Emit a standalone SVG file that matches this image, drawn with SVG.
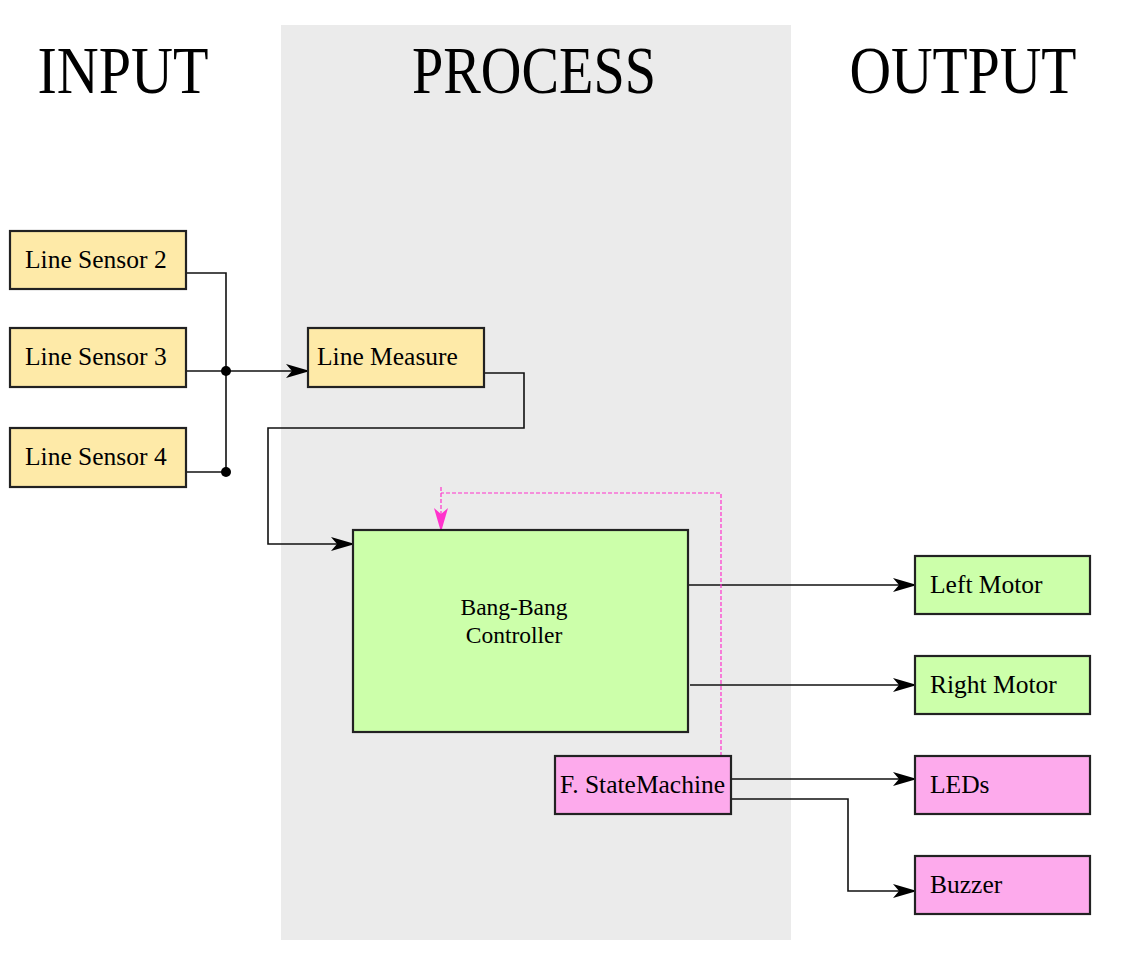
<svg xmlns="http://www.w3.org/2000/svg" width="1144" height="969" viewBox="0 0 1144 969">
<defs>
<style>
text{font-family:"Liberation Serif","Times New Roman",serif;fill:#000}
.lbl{font-size:25.5px}
.ttl{font-size:67px}
.box{stroke:#222;stroke-width:2.2}
.y{fill:#feeaa8}
.g{fill:#ccffaa}
.p{fill:#fdaaec}
.w{fill:none;stroke:#111;stroke-width:1.6}
.m{fill:none;stroke:#ff33cc;stroke-width:1.2;stroke-dasharray:4 2}
</style>
<marker id="arr" viewBox="0 0 24 14" refX="22" refY="7" markerWidth="24" markerHeight="14" markerUnits="userSpaceOnUse" orient="auto">
<path d="M0,0 L24,7 L0,14 L6,7 Z" fill="#000"/>
</marker>
<marker id="arrM" viewBox="0 0 24 14" refX="22" refY="7" markerWidth="24" markerHeight="14" markerUnits="userSpaceOnUse" orient="auto">
<path d="M0,0 L24,7 L0,14 L6,7 Z" fill="#ff33cc"/>
</marker>
</defs>
<rect width="1144" height="969" fill="#fff"/>
<rect x="281" y="25" width="510" height="915" fill="#ebebeb"/>
<text class="ttl" x="123" y="93" text-anchor="middle" textLength="171" lengthAdjust="spacingAndGlyphs">INPUT</text>
<text class="ttl" x="534" y="93" text-anchor="middle" textLength="244" lengthAdjust="spacingAndGlyphs">PROCESS</text>
<text class="ttl" x="963" y="93" text-anchor="middle" textLength="227" lengthAdjust="spacingAndGlyphs">OUTPUT</text>
<g id="connectors">
<polyline class="w" points="186,273 226,273 226,472"/>
<line class="w" x1="186" y1="371" x2="308" y2="371" marker-end="url(#arr)"/>
<line class="w" x1="186" y1="472" x2="226" y2="472"/>
<circle cx="226" cy="371" r="5" fill="#000"/>
<circle cx="226" cy="472" r="5" fill="#000"/>
<polyline class="w" points="484,373 524,373 524,428 268,428 268,544 353,544" marker-end="url(#arr)"/>
<line class="w" x1="688" y1="585" x2="915" y2="585" marker-end="url(#arr)"/>
<line class="w" x1="690" y1="685" x2="915" y2="685" marker-end="url(#arr)"/>
<line class="w" x1="731" y1="779" x2="915" y2="779" marker-end="url(#arr)"/>
<polyline class="w" points="731,799 848,799 848,891 915,891" marker-end="url(#arr)"/>
<polyline class="m" points="721,756 721,493 441,493"/>
<line class="m" x1="441" y1="487" x2="441" y2="530" marker-end="url(#arrM)"/>
</g>
<g id="ls2"><rect class="box y" x="10" y="231" width="176" height="58"/><text class="lbl" x="25" y="268">Line Sensor 2</text></g>
<g id="ls3"><rect class="box y" x="10" y="328" width="176" height="59"/><text class="lbl" x="25" y="365">Line Sensor 3</text></g>
<g id="ls4"><rect class="box y" x="10" y="428" width="176" height="59"/><text class="lbl" x="25" y="465">Line Sensor 4</text></g>
<g id="linemeasure"><rect class="box y" x="308" y="328" width="176" height="59"/><text class="lbl" x="317" y="365">Line Measure</text></g>
<g id="bangbang"><rect class="box g" x="353" y="530" width="335" height="202"/><text x="514" y="615" font-size="23.5" text-anchor="middle">Bang-Bang</text><text x="514" y="643" font-size="23.5" text-anchor="middle">Controller</text></g>
<g id="fsm"><rect class="box p" x="555" y="756" width="176" height="58"/><text class="lbl" x="560" y="793">F. StateMachine</text></g>
<g id="leftmotor"><rect class="box g" x="915" y="556" width="175" height="58"/><text class="lbl" x="930" y="593">Left Motor</text></g>
<g id="rightmotor"><rect class="box g" x="915" y="656" width="175" height="58"/><text class="lbl" x="930" y="693">Right Motor</text></g>
<g id="leds"><rect class="box p" x="915" y="756" width="175" height="58"/><text class="lbl" x="930" y="793">LEDs</text></g>
<g id="buzzer"><rect class="box p" x="915" y="856" width="175" height="58"/><text class="lbl" x="930" y="893">Buzzer</text></g>
</svg>
